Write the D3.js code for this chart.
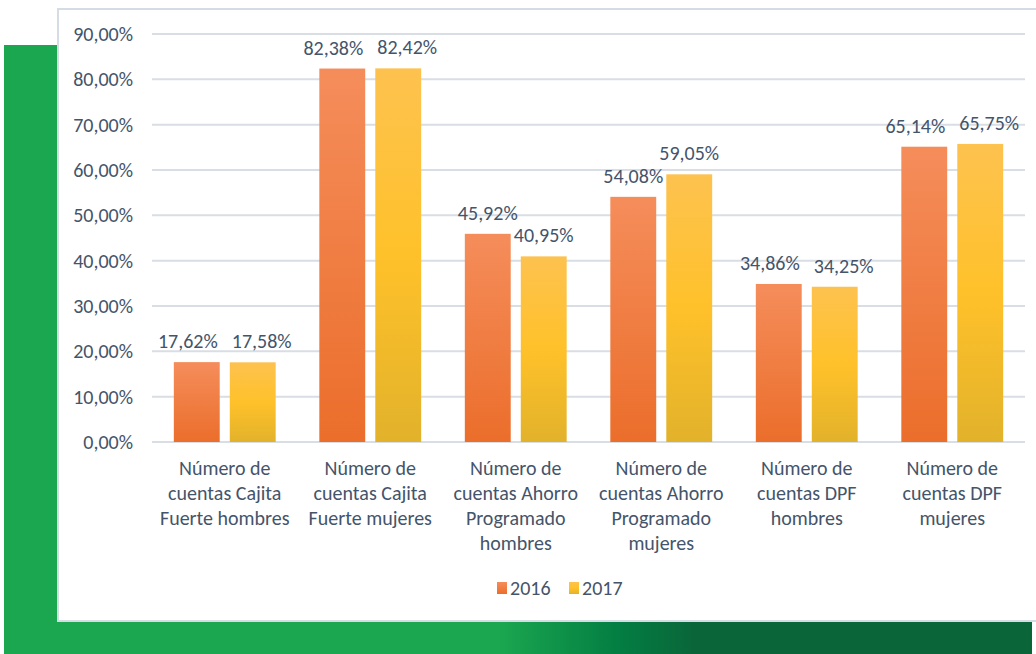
<!DOCTYPE html>
<html><head><meta charset="utf-8">
<script src="https://cdn.jsdelivr.net/npm/d3@7"></script>
<style>body{margin:0;background:#fff;overflow:hidden}</style>
</head><body>
<script>
const categories = [
  ["Número de","cuentas Cajita","Fuerte hombres"],
  ["Número de","cuentas Cajita","Fuerte mujeres"],
  ["Número de","cuentas Ahorro","Programado","hombres"],
  ["Número de","cuentas Ahorro","Programado","mujeres"],
  ["Número de","cuentas DPF","hombres"],
  ["Número de","cuentas DPF","mujeres"]
];
const series = ["2016","2017"];
const values2016 = [17.62, 82.38, 45.92, 54.08, 34.86, 65.14];
const values2017 = [17.58, 82.42, 40.95, 59.05, 34.25, 65.75];
const yTicks = [0,10,20,30,40,50,60,70,80,90];

const W=1036,H=654;
const svg=d3.select("body").append("svg").attr("width",W).attr("height",H);
const defs=svg.append("defs");
function lg(id,c1,c2){
  const g=defs.append("linearGradient").attr("id",id).attr("x1",0).attr("y1",0).attr("x2",0).attr("y2",1);
  g.append("stop").attr("offset","0%").attr("stop-color",c1);
  g.append("stop").attr("offset","100%").attr("stop-color",c2);
}
lg("g16","#F58D5B","#EB6E2B");
const g17=defs.append("linearGradient").attr("id","g17").attr("x1",0).attr("y1",0).attr("x2",0).attr("y2",1);
g17.append("stop").attr("offset","0%").attr("stop-color","#FDC24F");
g17.append("stop").attr("offset","50%").attr("stop-color","#FFC12A");
g17.append("stop").attr("offset","100%").attr("stop-color","#E2B22B");
const gg=defs.append("linearGradient").attr("id","gband").attr("x1",0).attr("y1",0).attr("x2",1).attr("y2",0);
gg.append("stop").attr("offset","0%").attr("stop-color","#1BA750");
gg.append("stop").attr("offset","48%").attr("stop-color","#1BA750");
gg.append("stop").attr("offset","60%").attr("stop-color","#037D42");
gg.append("stop").attr("offset","67%").attr("stop-color","#0A6639");
gg.append("stop").attr("offset","100%").attr("stop-color","#0A6639");

// green decoration
svg.append("rect").attr("x",4).attr("y",45).attr("width",60).attr("height",H-45).attr("fill","#1BA750");
svg.append("rect").attr("x",4).attr("y",615).attr("width",1028).attr("height",39).attr("fill","url(#gband)");
// white panel
svg.append("rect").attr("x",58).attr("y",9).attr("width",990).attr("height",612)
  .attr("fill","#fff").attr("stroke","#D5DCE4").attr("stroke-width",2);

const x0=d3.scaleBand().domain(d3.range(categories.length)).range([152,1025]).paddingInner(0.3).paddingOuter(0.15);
const x1=d3.scaleBand().domain(series).range([0,x0.bandwidth()]).paddingInner(0.18);
const y=d3.scaleLinear().domain([0,90]).range([442,34]);

const font="Carlito, Calibri, Lato, sans-serif";
const fs=20;
const grid=svg.append("g");
yTicks.forEach(t=>{
  grid.append("line").attr("x1",152).attr("x2",1025).attr("y1",y(t)).attr("y2",y(t))
   .attr("stroke","#D9DEE5").attr("stroke-width",2);
});
const yAxis=d3.axisLeft(y).tickValues(yTicks).tickSize(0).tickPadding(0)
  .tickFormat(d=>d3.format(".2f")(d).replace(".",",")+"%");
const ya=svg.append("g").attr("transform","translate(133,0)").call(yAxis);
ya.select(".domain").remove();
ya.selectAll("text").attr("font-family",font).attr("font-size",fs).attr("fill","#44546A");

const groups=svg.selectAll(".grp").data(categories).enter().append("g")
  .attr("transform",(d,i)=>`translate(${x0(i)},0)`);
const fmt=v=>d3.format(".2f")(v).replace(".",",")+"%";
const labelSets=[];
[values2016,values2017].forEach((vals,si)=>{
  groups.append("rect").attr("x",x1(series[si])).attr("width",x1.bandwidth())
    .attr("y",(d,i)=>y(vals[i])).attr("height",(d,i)=>442-y(vals[i]))
    .attr("fill",si?"url(#g17)":"url(#g16)");
  labelSets.push(groups.append("text").attr("x",x1(series[si])+x1.bandwidth()/2).attr("y",(d,i)=>y(vals[i])-14)
    .attr("text-anchor","middle").attr("font-family",font).attr("font-size",fs).attr("fill","#44546A")
    .text((d,i)=>fmt(vals[i])).nodes());
});
// separate overlapping labels
const gap=14;
categories.forEach((c,i)=>{
  const a=labelSets[0][i], b=labelSets[1][i];
  const ya_=+a.getAttribute("y"), yb=+b.getAttribute("y");
  if(Math.abs(ya_-yb)<fs){
    const xa=+a.getAttribute("x"), xb=+b.getAttribute("x");
    const wa=a.getComputedTextLength(), wb=b.getComputedTextLength();
    const overlap=(xa+wa/2+gap)-(xb-wb/2);
    if(overlap>0){
      a.setAttribute("x",xa-overlap/2);
      b.setAttribute("x",xb+overlap/2);
    }
  }
});
groups.each(function(d){
  const t=d3.select(this).append("text").attr("text-anchor","middle").attr("font-family",font)
   .attr("font-size",fs).attr("fill","#44546A");
  d.forEach((line,k)=>t.append("tspan").attr("x",x0.bandwidth()/2).attr("y",475+k*25).text(line));
});

// legend
const leg=svg.append("g");
const lx=[497,569];
series.forEach((s,i)=>{
  leg.append("rect").attr("x",lx[i]).attr("y",582).attr("width",10).attr("height",12).attr("fill",i?"url(#g17)":"url(#g16)");
  leg.append("text").attr("x",lx[i]+13).attr("y",595).attr("font-family",font).attr("font-size",fs).attr("fill","#44546A").text(s);
});
</script>
</body></html>
